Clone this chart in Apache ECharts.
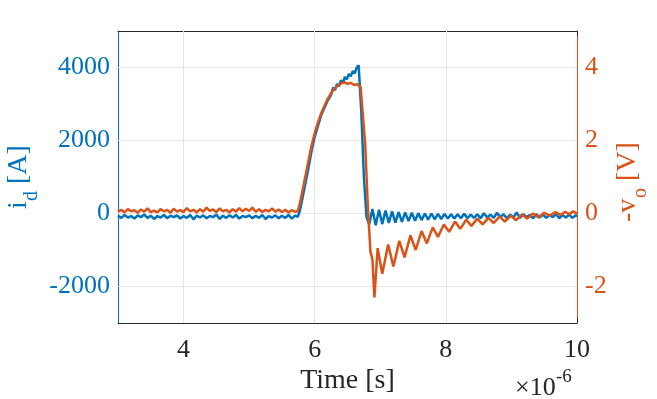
<!DOCTYPE html>
<html lang="en">
<head>
    <meta charset="UTF-8">
    <title>i_d / -v_o</title>
    <script src="https://cdn.jsdelivr.net/npm/echarts@6/dist/echarts.min.js"></script>
    <style>
        html, body { margin: 0; padding: 0; background: #fff; }
        #main { width: 657px; height: 399px; }
    </style>
</head>
<body>
<div id="main"></div>
<script type="text/javascript">
    // time in microseconds, current in A
    var current = [
        [3.00,-60],[3.05,-120],[3.10,-40],[3.15,-110],[3.20,-70],[3.25,-140],[3.30,-50],[3.35,-100],[3.40,-30],[3.45,-120],
        [3.50,-60],[3.55,-150],[3.60,-70],[3.65,-110],[3.70,-40],[3.75,-130],[3.80,-60],[3.85,-100],[3.90,-50],[3.95,-140],
        [4.00,-70],[4.05,-120],[4.10,-40],[4.15,-160],[4.20,-60],[4.25,-110],[4.30,-50],[4.35,-130],[4.40,-70],[4.45,-100],
        [4.50,-30],[4.55,-150],[4.60,-60],[4.65,-120],[4.70,-50],[4.75,-110],[4.80,-40],[4.85,-140],[4.90,-70],[4.95,-100],
        [5.00,-50],[5.05,-130],[5.10,-60],[5.15,-120],[5.20,-40],[5.25,-150],[5.30,-70],[5.35,-110],[5.40,-50],[5.45,-130],
        [5.50,-60],[5.55,-120],[5.60,-40],[5.65,-140],[5.70,-60],[5.74,-90],
        [5.77,50],[5.80,300],[5.85,750],[5.90,1200],[5.95,1700],[6.00,2100],[6.05,2400],[6.10,2700],[6.15,2900],[6.20,3100],
        [6.25,3250],[6.28,3450],[6.31,3380],[6.34,3550],[6.37,3480],[6.40,3650],[6.43,3580],[6.46,3740],[6.49,3680],[6.52,3820],
        [6.55,3760],[6.58,3900],[6.61,3840],[6.64,4000],[6.67,4060],
        [6.71,2800],[6.75,1000],[6.79,-100],[6.83,-300],
        [6.88,120],[6.93,-320],[6.98,100],[7.03,-290],[7.08,80],[7.13,-260],[7.18,60],[7.23,-250],[7.28,40],[7.33,-230],
        [7.38,30],[7.43,-210],[7.48,20],[7.53,-200],[7.58,10],[7.63,-180],[7.68,0],[7.73,-170],[7.78,0],[7.83,-160],
        [7.88,-10],[7.93,-150],[7.98,-10],[8.03,-140],[8.08,-20],[8.13,-140],[8.18,-20],[8.23,-130],[8.28,-10],[8.33,-130],
        [8.38,-30],[8.43,-120],[8.48,-20],[8.53,-130],[8.58,10],[8.63,-110],[8.68,-30],[8.73,-120],[8.78,20],[8.83,-100],
        [8.88,-20],[8.93,-130],[8.98,-30],[9.03,-110],[9.08,30],[9.13,-120],[9.18,-20],[9.23,-100],[9.28,-40],[9.33,-130],
        [9.38,-20],[9.43,-110],[9.48,-30],[9.53,-120],[9.58,-40],[9.63,-100],[9.68,-20],[9.73,-130],[9.78,-40],[9.83,-110],
        [9.88,-30],[9.93,-120],[9.98,-50],[10.00,-80]
    ];

    // time in microseconds, -vo in V
    var voltage = [
        [3.00,0.05],[3.05,0.10],[3.10,0.03],[3.15,0.12],[3.20,0.06],[3.25,0.09],[3.30,0.02],[3.35,0.11],[3.40,0.05],[3.45,0.14],
        [3.50,0.04],[3.55,0.08],[3.60,0.03],[3.65,0.12],[3.70,0.06],[3.75,0.10],[3.80,0.02],[3.85,0.13],[3.90,0.05],[3.95,0.09],
        [4.00,0.04],[4.05,0.15],[4.10,0.06],[4.15,0.10],[4.20,0.03],[4.25,0.12],[4.30,0.05],[4.35,0.16],[4.40,0.07],[4.45,0.11],
        [4.50,0.04],[4.55,0.14],[4.60,0.06],[4.65,0.10],[4.70,0.03],[4.75,0.12],[4.80,0.05],[4.85,0.15],[4.90,0.06],[4.95,0.13],
        [5.00,0.07],[5.05,0.16],[5.10,0.05],[5.15,0.12],[5.20,0.04],[5.25,0.10],[5.30,0.06],[5.35,0.14],[5.40,0.05],[5.45,0.11],
        [5.50,0.04],[5.55,0.10],[5.60,0.03],[5.65,0.09],[5.70,0.05],[5.74,0.06],
        [5.77,0.25],[5.80,0.5],[5.85,0.95],[5.90,1.4],[5.95,1.85],[6.00,2.2],[6.05,2.5],[6.10,2.75],[6.15,2.95],[6.20,3.15],
        [6.25,3.3],[6.30,3.42],[6.35,3.5],[6.40,3.56],[6.45,3.6],[6.50,3.55],[6.55,3.58],[6.60,3.52],[6.65,3.54],[6.70,3.46],[6.73,3.42],
        [6.77,1.9],[6.81,0.2],[6.85,-1.05],[6.88,-1.25],[6.91,-2.3],
        [6.96,-0.95],[7.03,-1.65],[7.12,-0.85],[7.20,-1.45],[7.29,-0.75],[7.37,-1.2],[7.46,-0.6],[7.54,-1.0],[7.63,-0.48],[7.71,-0.82],
        [7.80,-0.38],[7.88,-0.64],[7.97,-0.3],[8.05,-0.5],[8.14,-0.22],[8.22,-0.42],[8.31,-0.17],[8.39,-0.34],[8.48,-0.14],[8.56,-0.3],
        [8.65,-0.12],[8.73,-0.26],[8.82,-0.08],[8.90,-0.22],[8.99,-0.06],[9.07,-0.18],[9.16,-0.03],[9.24,-0.14],[9.33,0.0],[9.41,-0.1],
        [9.50,0.02],[9.58,-0.06],[9.67,0.04],[9.75,-0.04],[9.82,0.05],[9.88,-0.02],[9.94,0.06],[10.00,0.0]
    ];

    var xTicks = [4, 6, 8, 10];
    var leftTicks = [-2000, 0, 2000, 4000];
    var rightTicks = [-2, 0, 2, 4];

    var BLUE = '#0072BD';
    var ORANGE = '#D95319';
    var DARK = '#262626';
    var GRID = '#e6e6e6';
    var FONT = '"Liberation Serif", "Times New Roman", serif';

    var myChart = echarts.init(document.getElementById('main'));

    // grid lines drawn as mark lines (ticks do not start at axis min)
    var gridLines = [];
    xTicks.forEach(function (v) { if (v < 10) gridLines.push({xAxis: v}); });
    leftTicks.forEach(function (v) { gridLines.push({yAxis: v}); });

    function txt(text, x, y, size, color, align) {
        return {
            type: 'text', x: x, y: y, silent: true,
            style: {
                text: text, fill: color, align: align || 'left', verticalAlign: 'middle',
                font: size + 'px ' + FONT
            }
        };
    }

    var option = {
        animation: false,
        backgroundColor: '#fff',
        grid: {left: 118, right: 80, top: 31, bottom: 76},
        xAxis: [{
            type: 'value', min: 3, max: 10, position: 'bottom',
            axisLine: {show: true, onZero: false, lineStyle: {color: DARK, width: 1}},
            axisTick: {show: true, inside: true, length: 5, customValues: xTicks, lineStyle: {color: DARK}},
            axisLabel: {customValues: xTicks, color: DARK, fontFamily: FONT, fontSize: 26, margin: 14},
            splitLine: {show: false}
        }, {
            type: 'value', min: 3, max: 10, position: 'top',
            axisLine: {show: true, onZero: false, lineStyle: {color: DARK, width: 1}},
            axisTick: {show: true, inside: true, length: 5, customValues: xTicks, lineStyle: {color: DARK}},
            axisLabel: {show: false},
            splitLine: {show: false}
        }],
        yAxis: [{
            type: 'value', min: -3000, max: 5000, position: 'left',
            axisLine: {show: true, onZero: false, lineStyle: {color: BLUE, width: 1}},
            axisTick: {show: true, inside: true, length: 5, customValues: leftTicks, lineStyle: {color: BLUE}},
            axisLabel: {
                customValues: leftTicks, color: BLUE, fontFamily: FONT, fontSize: 26, margin: 8,
                formatter: function (v) { return String(v); }
            },
            splitLine: {show: false}
        }, {
            type: 'value', min: -3, max: 5, position: 'right',
            axisLine: {show: true, onZero: false, lineStyle: {color: ORANGE, width: 1}},
            axisTick: {show: true, inside: true, length: 5, customValues: rightTicks, lineStyle: {color: ORANGE}},
            axisLabel: {
                customValues: rightTicks, color: ORANGE, fontFamily: FONT, fontSize: 26, margin: 8,
                formatter: function (v) { return String(v); }
            },
            splitLine: {show: false}
        }],
        series: [{
            name: 'i_d',
            type: 'line',
            xAxisIndex: 0, yAxisIndex: 0,
            data: current,
            showSymbol: false,
            lineStyle: {color: BLUE, width: 2.5},
            itemStyle: {color: BLUE},
            z: 2,
            markLine: {
                silent: true, z: 1, symbol: 'none', animation: false,
                label: {show: false},
                lineStyle: {color: GRID, type: 'solid', width: 1},
                emphasis: {disabled: true},
                data: gridLines
            }
        }, {
            name: '-v_o',
            type: 'line',
            xAxisIndex: 0, yAxisIndex: 1,
            data: voltage,
            showSymbol: false,
            lineStyle: {color: ORANGE, width: 2.5},
            itemStyle: {color: ORANGE},
            z: 3
        }],
        graphic: [
            {
                type: 'group', x: 19, y: 177, rotation: Math.PI / 2,
                children: [
                    txt('i', -32, 0, 28, BLUE),
                    txt('d', -24, 13, 20, BLUE),
                    txt(' [A]', -14, 0, 28, BLUE)
                ]
            },
            {
                type: 'group', x: 628, y: 182, rotation: Math.PI / 2,
                children: [
                    txt('-v', -40, 0, 28, ORANGE),
                    txt('o', -16, 13, 20, ORANGE),
                    txt(' [V]', -6, 0, 28, ORANGE)
                ]
            },
            txt('Time [s]', 347.5, 381, 28, DARK, 'center'),
            txt('\u00d710', 515, 388, 26, DARK),
            txt('-6', 556, 377, 19, DARK)
        ]
    };

    myChart.setOption(option);
</script>
</body>
</html>
